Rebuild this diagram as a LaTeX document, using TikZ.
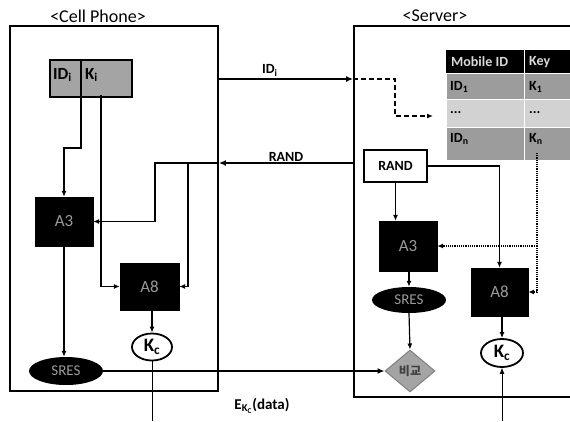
\documentclass[tikz,border=0pt]{standalone}
\usepackage{fontspec}
\setmainfont{Carlito}
\newfontfamily\kr{Noto Sans CJK KR}
\usetikzlibrary{shapes.geometric,arrows.meta}
\definecolor{boxgray}{HTML}{A4A4A4}
\definecolor{rowdark}{HTML}{9C9C9C}
\definecolor{rowlight}{HTML}{D2D2D2}
\definecolor{blktext}{HTML}{9A9A9A}
\tikzset{
  frame/.style={draw, line width=1.8pt, rectangle, inner sep=0pt},
  blk/.style={fill=black, draw=black, text=blktext, inner sep=0pt, font=\fontsize{17}{17}\selectfont},
  ovalb/.style={ellipse, fill=black, text=blktext, inner sep=0pt, font=\fontsize{15}{15}\selectfont},
  ovalw/.style={ellipse, draw, line width=1.8pt, fill=white, inner sep=0pt, font=\bfseries\fontsize{19}{19}\selectfont},
  arr/.style={-{Latex[length=7pt,width=6pt]}, line width=1.7pt},
  thinarr/.style={-{Latex[length=6pt,width=5pt]}, line width=1.2pt},
  lbl/.style={font=\bfseries\fontsize{14}{14}\selectfont, inner sep=1pt},
  cellt/.style={inner sep=0pt, font=\bfseries\fontsize{14}{14}\selectfont},
  title/.style={font=\fontsize{18}{18}\selectfont, inner sep=1pt}
}
\begin{document}
\begin{tikzpicture}[x=1pt,y=-1pt]
\useasboundingbox (0,0) rectangle (570,421);
\clip (0,0) rectangle (570,421);
\fill[white] (0,0) rectangle (570,421);

% frames
\node[frame, minimum width=208pt, minimum height=365pt] (phone) at (114,208.5) {};
\node[frame, minimum width=240pt, minimum height=371pt] (server) at (474,211.5) {};
\node[title] (tphone) at (98,16) {<Cell Phone>};
\node[title] (tserver) at (435,16) {<Server>};

% cell phone ID/K box
\node[draw, line width=1.5pt, fill=boxgray, minimum width=31pt, minimum height=37pt, inner sep=0pt] (idbox) at (65.5,78.5) {};
\node[draw, line width=1.5pt, fill=boxgray, minimum width=51pt, minimum height=37pt, inner sep=0pt] (kbox) at (106.5,78.5) {};
\node[cellt, anchor=west, font=\bfseries\fontsize{17}{17}\selectfont] (idt) at (53,75) {ID\textsubscript{i}};
\node[cellt, anchor=west, font=\bfseries\fontsize{17}{17}\selectfont] (kt) at (85,75) {K\textsubscript{i}};

% cell phone blocks
\node[blk, minimum width=58pt, minimum height=49pt] (A3c) at (64,221.5) {A3};
\node[blk, minimum width=59pt, minimum height=47pt] (A8c) at (149.5,286.5) {A8};
\node[ovalb, minimum width=74pt, minimum height=28pt] (SRESc) at (66,371) {SRES};
\node[ovalw, minimum width=40pt, minimum height=27pt] (Kcc) at (152,347) {K\textsubscript{c}};

% table
\node[fill=black, minimum width=78pt, minimum height=23pt, inner sep=0pt] (h1) at (485,61.5) {};
\node[fill=black, minimum width=56pt, minimum height=23pt, inner sep=0pt, anchor=west] (h2) at (524.5,61.5) {};
\node[fill=rowdark, minimum width=77pt, minimum height=25pt, inner sep=0pt] (r1a) at (485,86.5) {};
\node[fill=rowdark, minimum width=56pt, minimum height=25pt, inner sep=0pt, anchor=west] (r1b) at (525,86.5) {};
\node[fill=rowlight, minimum width=77pt, minimum height=27pt, inner sep=0pt] (r2a) at (485,113.5) {};
\node[fill=rowlight, minimum width=56pt, minimum height=27pt, inner sep=0pt, anchor=west] (r2b) at (525,113.5) {};
\node[fill=rowdark, minimum width=77pt, minimum height=32pt, inner sep=0pt] (r3a) at (485,144) {};
\node[fill=rowdark, minimum width=56pt, minimum height=32pt, inner sep=0pt, anchor=west] (r3b) at (525,144) {};
\node[cellt, anchor=west, text=white!85!black] (th1) at (451,62) {Mobile ID};
\node[cellt, anchor=west, text=white!85!black] (th2) at (529,62) {Key};
\node[cellt, anchor=west] (t1a) at (450,87) {ID\textsubscript{1}};
\node[cellt, anchor=west] (t1b) at (529,87) {K\textsubscript{1}};
\node[cellt, anchor=west] (t2a) at (450,113) {...};
\node[cellt, anchor=west] (t2b) at (529,113) {...};
\node[cellt, anchor=west] (t3a) at (450,139) {ID\textsubscript{n}};
\node[cellt, anchor=west] (t3b) at (529,139) {K\textsubscript{n}};
\coordinate (kn) at (537,153);

% server blocks
\node[draw, line width=2pt, fill=white, minimum width=63pt, minimum height=32pt, inner sep=0pt, font=\bfseries\fontsize{14}{14}\selectfont] (rand) at (395.5,166) {RAND};
\node[blk, minimum width=58pt, minimum height=50pt] (A3s) at (408,246) {A3};
\node[blk, minimum width=57pt, minimum height=48pt] (A8s) at (499.5,292) {A8};
\node[ovalb, minimum width=74pt, minimum height=26pt] (SRESs) at (409,300) {SRES};
\node[diamond, draw=gray, line width=1pt, fill=boxgray, minimum width=50pt, minimum height=42pt, inner sep=0pt, font=\kr\bfseries\fontsize{12}{12}\selectfont, text=black!75] (cmp) at (410,371) {\raisebox{-5pt}{비교}};
\node[ovalw, minimum width=42pt, minimum height=28pt] (Kcs) at (502,353) {K\textsubscript{c}};

% ID_i transfer
\draw[arr] (phone.east |- 0,79) -- node[lbl, above=1pt, pos=0.38] (lid) {ID\textsubscript{i}} (server.west |- 0,79);
\draw[thinarr, dash pattern=on 5pt off 3pt, line width=1.3pt] (server.west |- 0,79) -- (395,79) -- (395,116) -- (433,116);

% RAND transfer
\draw[arr] (server.west |- 0,163) -- node[lbl, above=0pt, pos=0.5] (lrand) {RAND} (phone.east |- 0,163);
\draw[thinarr] (phone.east |- 0,163) -- (155,163) |- (A3c.east);
\draw[thinarr] (188,163) |- (A8c.east);

% cell phone internal
\draw[thinarr] (81,97) -- (81,148) -| (A3c.north);
\draw[thinarr] (101,95) |- (A8c.west);
\draw[thinarr] (A3c.south) -- (A3c.south |- SRESc.north);
\draw[thinarr] (A8c.south -| Kcc.north) -- (Kcc.north);
\draw[line width=0.7pt] (Kcc.south) -- (152,421);
\node[lbl, font=\bfseries\fontsize{15}{15}\selectfont] (ldata) at (262,406) {E\textsubscript{K\textsubscript{C}}(data)};

% SRES to compare
\draw[arr, line width=2.2pt] (SRESc.east) -- (cmp.west);

% server internal
\draw[thinarr] (rand.south) -- (rand.south |- A3s.north);
\draw[thinarr] (rand.east) -| (A8s.north);
\draw[thinarr] (A3s.south -| SRESs.north) -- (SRESs.north);
\draw[thinarr] (SRESs.south) -- (cmp.north);
\draw[thinarr] (A8s.south -| Kcs.north) -- (Kcs.north);
\draw[thinarr, line width=0.7pt] (502,421) -- (Kcs.south);
\draw[thinarr, densely dotted, line width=1.4pt] (kn) -- (537,292) -- (A8s.east);
\draw[thinarr, densely dotted, line width=1.4pt] (537,246) -- (A3s.east);
\end{tikzpicture}
\end{document}
